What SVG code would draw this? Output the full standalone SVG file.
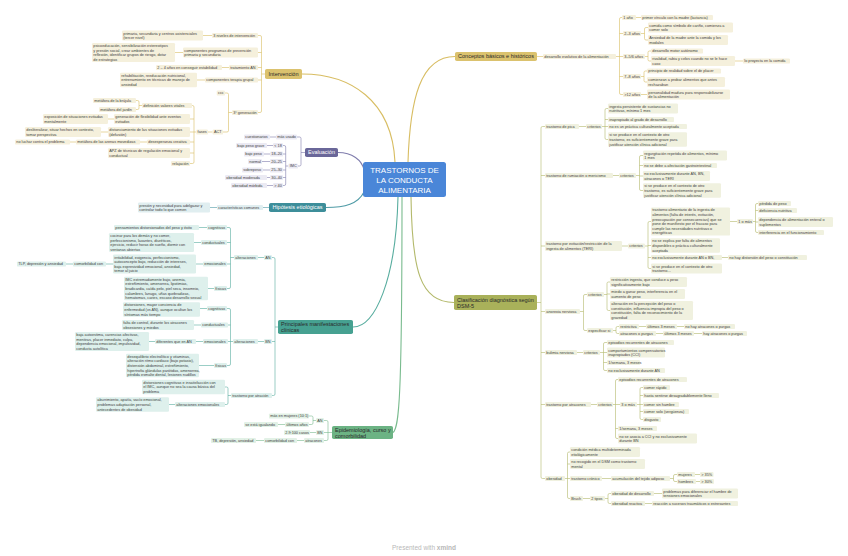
<svg xmlns="http://www.w3.org/2000/svg" width="848" height="556" viewBox="0 0 848 556">
<style>
text{font-family:"Liberation Sans",Arial,sans-serif;font-size:3.8px;fill:#3d3d3d}
rect{rx:1.2px}
.g rect{fill:#f5f0dc}
.p rect{fill:#ebeaf3}
.h rect{fill:#e0eef0}
.m rect{fill:#def0ec}
.e rect{fill:#e2f1e6}
.o rect{fill:#f0f1df}
.M rect{rx:1.8px}
.M text{font-size:5.5px;fill:#2a2a2a}
.Mg rect{fill:#dbc26e}
.Mp rect{fill:#6a6799}
.Mh rect{fill:#3d8e9a}
.Mm rect{fill:#46a191}
.Me rect{fill:#6cb384}
.Mo rect{fill:#a9b15a}
.W text{fill:#ffffff}
#root rect{rx:2.5px;fill:#4a86d8}
#root text{font-size:8px;fill:#ffffff}
#connectors path{fill:none;stroke-width:.6}
#connectors .big{stroke-width:1.1}
.cg{stroke:#d8bd62}
.cp{stroke:#7f7cac}
.ch{stroke:#4f9ba6}
.cm{stroke:#58ad9f}
.ce{stroke:#79bb8e}
.co{stroke:#b3b96b}
.ft{font-size:6.5px;fill:#b8b8b8}
</style>
<g id="connectors">
<path class="cg big" d="M395 162C392 100 350 74 302 74"/>
<path class="cg big" d="M408 162C410 100 420 56.5 455 56.5"/>
<path class="cp big" d="M338 152.5C352 152.5 362 160 364 170"/>
<path class="ch big" d="M326 207.5C345 207.5 358 204 364 192"/>
<path class="cm big" d="M353 327C375 327 396 280 398 197"/>
<path class="ce big" d="M393 432.5C399 428 402 400 402 197"/>
<path class="co big" d="M411 197C412 270 420 302.5 454 302.5"/>
<path class="cg" d="M265 74H261.5M258 35.5H260Q261.5 35.5 261.5 37V111Q261.5 112.5 260 112.5H258M258 52.5H261.5M258 67.5H261.5M258 80H261.5"/>
<path class="cg" d="M203 35.5H212M175 52.5H183M222 67.5H229M197 80H205"/>
<path class="cg" d="M232 112.5H228.5M225 93H227Q228.5 93 228.5 94.5V130.5Q228.5 132 227 132H223"/>
<path class="cg" d="M212.6 132H208"/>
<path class="cg" d="M196.3 132H194M192 105.5H192.5Q194 105.5 194 107V162Q194 163.5 192.5 163.5H190M190 119H194M190 132H194M190 142H194M190 153H194"/>
<path class="cg" d="M142 105.5H139M136 100.5H137.5Q139 100.5 139 102V108Q139 109.5 137.5 109.5H136"/>
<path class="cg" d="M108 119H114M101 132H108M140 142H147M70 142H76"/>
<path class="cg" d="M537 56.5H543"/>
<path class="cg" d="M616 56.5H619.5M622 17.5H621Q619.5 17.5 619.5 19V93Q619.5 94.5 621 94.5H623M619.5 33.5H623M619.5 56.5H623M619.5 76.5H623"/>
<path class="cg" d="M636 17.5H641"/>
<path class="cg" d="M641 33.5H644.5M648 27.5H646Q644.5 27.5 644.5 29V38.5Q644.5 40 646 40H648"/>
<path class="cg" d="M645 56.5H648M651 51H649.5Q648 51 648 52.5V59.5Q648 61 649.5 61H651"/>
<path class="cg" d="M735 61H743"/>
<path class="cg" d="M641 76.5H644M647 71H645.5Q644 71 644 72.5V80.5Q644 82 645.5 82H647"/>
<path class="cg" d="M641 94.5H647"/>
<path class="cp" d="M305 152.5H301M297 137H299.5Q301 137 301 138.5V164.5Q301 166 299.5 166H298"/>
<path class="cp" d="M270 137H276"/>
<path class="cp" d="M288.4 166H285.7M283 145.5H284.2Q285.7 145.5 285.7 147V184Q285.7 185.5 284.2 185.5H283M283 154H285.7M283 161.5H285.7M283 170H285.7M283 177.5H285.7"/>
<path class="cp" d="M267 145.5H273M264 154H270M262 161.5H270M263 170H270M267 177.5H270M267 185.5H273"/>
<path class="ch" d="M269 207.5H263M210 207.5H217"/>
<path class="cm" d="M278 327H275M272 257.5H273.5Q275 257.5 275 259V394Q275 395.5 273.5 395.5H272M272 341.5H275"/>
<path class="cm" d="M258 257.5H264M258 341.5H264"/>
<path class="cm" d="M234 257.5H230.5M227 227.5H229Q230.5 227.5 230.5 229V287Q230.5 288.5 229 288.5H227M227 242.5H230.5M227 264H230.5"/>
<path class="cm" d="M199 227.5H207M194 242.5H201M196 264H203M106 264H113M66 264H73M208 288.5H214"/>
<path class="cm" d="M233 341.5H230.5M227 308.5H229Q230.5 308.5 230.5 310V364Q230.5 365.5 229 365.5H227M228 325H230.5M228 341.5H230.5"/>
<path class="cm" d="M200 308.5H207M194 325H201M196 341.5H203M149 341.5H155M199 365.5H214"/>
<path class="cm" d="M231 395.5H228M225 387H226.5Q228 387 228 388.5V403Q228 404.5 226.5 404.5H225M169 404.5H175"/>
<path class="ce" d="M332 432.5H328M324 420.5H326.5Q328 420.5 328 422V439Q328 440.5 326.5 440.5H324M324 432.5H328"/>
<path class="ce" d="M316 420.5H313M309 416H311.5Q313 416 313 417.5V423Q313 424.5 311.5 424.5H309"/>
<path class="ce" d="M278 424.5H285M310 432.5H316M297 440.5H304M256 440.5H264"/>
<path class="co" d="M537 302.5H541M545 126.5H542.5Q541 126.5 541 128V477Q541 478.5 542.5 478.5H545M541 175.5H545M541 246H545M541 311.5H545M541 352.5H545M541 404.5H545"/>
<path class="co" d="M579 126.5H586M613 175.5H619M622 246H628M577 352.5H583M591 404.5H597"/>
<path class="co" d="M602 126.5H605M608 108.5H606.5Q605 108.5 605 110V138Q605 139.5 606.5 139.5H608M605 119.5H608M605 126.5H608"/>
<path class="co" d="M636 175.5H639.5M643 155.5H641Q639.5 155.5 639.5 157V189Q639.5 190.5 641 190.5H643M639.5 165.5H643M639.5 176H643"/>
<path class="co" d="M645 246H648M651 221.5H649.5Q648 221.5 648 223V267Q648 268.5 649.5 268.5H651M648 245.5H651M648 257.5H651"/>
<path class="co" d="M730 221.5H737M753 221.5H755.5M758 203.5H757Q755.5 203.5 755.5 205V231Q755.5 232.5 757 232.5H758M755.5 210.5H758M755.5 222H758"/>
<path class="co" d="M722 257.5H728"/>
<path class="co" d="M580 311.5H583.5M587 294.5H585Q583.5 294.5 583.5 296V329Q583.5 330.5 585 330.5H587"/>
<path class="co" d="M604 294.5H607M610 282H608.5Q607 282 607 283.5V309Q607 310.5 608.5 310.5H610M607 294H610"/>
<path class="co" d="M613 330.5H616M619 326.5H617.5Q616 326.5 616 328V332Q616 333.5 617.5 333.5H619"/>
<path class="co" d="M639 326.5H646M677 326.5H684M656 333.5H663M694 333.5H702"/>
<path class="co" d="M600 352.5H603.5M607 342.5H605Q603.5 342.5 603.5 344V369Q603.5 370.5 605 370.5H607M603.5 352.5H607M603.5 362.5H607"/>
<path class="co" d="M613 404.5H615.5M618 379.5H617Q615.5 379.5 615.5 381V437Q615.5 438.5 617 438.5H618M615.5 404.5H620M615.5 428.5H618"/>
<path class="co" d="M637 404.5H640M643 387.5H641.5Q640 387.5 640 389V418Q640 419.5 641.5 419.5H643M640 395.5H643M640 404.5H643M640 411.5H643"/>
<path class="co" d="M565 478.5H567.5M570 452H569Q567.5 452 567.5 453.5V497Q567.5 498.5 569 498.5H570M567.5 464H570M567.5 478.5H570"/>
<path class="co" d="M602 478.5H611M670 478.5H673.5M677 474.5H675Q673.5 474.5 673.5 476V480Q673.5 481.5 675 481.5H677M695 474.5H700M696 481.5H700"/>
<path class="co" d="M583 498.5H590M605 498.5H608M611 493.5H609.5Q608 493.5 608 495V502Q608 503.5 609.5 503.5H611M654 493.5H662M645 503.5H652"/>
</g>

<g id="root"><rect x="363" y="162" width="83" height="35"/><text x="404.5" y="173" text-anchor="middle">TRASTORNOS DE<tspan x="404.5" dy="10">LA CONDUCTA</tspan><tspan x="404.5" dy="10">ALIMENTARIA</tspan></text></g>

<g id="intervencion" class="M Mg"><rect x="265" y="69" width="37" height="10"/><text x="283.5" y="76" text-anchor="middle">Intervención</text></g>
<g id="i1" class="g"><rect x="212" y="32.9" width="46" height="5.2"/><text x="213.3" y="36.9">3 niveles de intervención</text></g>
<g id="i1a" class="g"><rect x="122" y="30.6" width="81" height="9.8"/><text x="123.3" y="34.6">primaria, secundaria y centros asistenciales<tspan x="123.3" dy="4.6">(tercer nivel)</tspan></text></g>
<g id="i2" class="g"><rect x="183" y="47.6" width="75" height="9.8"/><text x="184.3" y="51.6">componentes programas de prevención<tspan x="184.3" dy="4.6">primaria y secundaria</tspan></text></g>
<g id="i2a" class="g"><rect x="92" y="43" width="83" height="19"/><text x="93.3" y="47">psicoeducación, sensibilización estereotipos<tspan x="93.3" dy="4.6">y presión social, crear ambientes de</tspan><tspan x="93.3" dy="4.6">reflexión, identificar grupos de riesgo, dotar</tspan><tspan x="93.3" dy="4.6">de estrategias</tspan></text></g>
<g id="i3" class="g"><rect x="229" y="64.9" width="29" height="5.2"/><text x="230.3" y="68.9">tratamiento AN</text></g>
<g id="i3a" class="g"><rect x="156" y="64.9" width="66" height="5.2"/><text x="157.3" y="68.9">2 – 4 años en conseguir estabilidad</text></g>
<g id="i4" class="g"><rect x="205" y="77.4" width="53" height="5.2"/><text x="206.3" y="81.4">componentes terapia grupal</text></g>
<g id="i4a" class="g"><rect x="120" y="72.8" width="77" height="14.4"/><text x="121.3" y="76.8">rehabilitación, reeducación nutricional,<tspan x="121.3" dy="4.6">entrenamiento en técnicas de manejo de</tspan><tspan x="121.3" dy="4.6">ansiedad</tspan></text></g>
<g id="i5" class="g"><rect x="232" y="109.9" width="26" height="5.2"/><text x="233.3" y="113.9">3ª generación</text></g>
<g id="ccc" class="g"><rect x="216.7" y="90.4" width="8.3" height="5.2"/><text x="218" y="94.4">ccc</text></g>
<g id="act" class="g"><rect x="212.6" y="129.4" width="10.4" height="5.2"/><text x="213.9" y="133.4">ACT</text></g>
<g id="fases" class="g"><rect x="196.3" y="129.4" width="11.7" height="5.2"/><text x="197.6" y="133.4">fases</text></g>
<g id="f1" class="g"><rect x="142" y="102.9" width="50" height="5.2"/><text x="143.3" y="106.9">definición valores vitales</text></g>
<g id="f1a" class="g"><rect x="93" y="97.9" width="43" height="5.2"/><text x="94.3" y="101.9">metáfora de la brújula</text></g>
<g id="f1b" class="g"><rect x="99" y="106.9" width="37" height="5.2"/><text x="100.3" y="110.9">metáfora del jardín</text></g>
<g id="f2" class="g"><rect x="114" y="114.1" width="76" height="9.8"/><text x="115.3" y="118.1">generación de flexibilidad ante eventos<tspan x="115.3" dy="4.6">evitados</tspan></text></g>
<g id="f2a" class="g"><rect x="43" y="114.1" width="65" height="9.8"/><text x="44.3" y="118.1">exposición de situaciones evitadas<tspan x="44.3" dy="4.6">mentalmente</tspan></text></g>
<g id="f3" class="g"><rect x="108" y="127.1" width="82" height="9.8"/><text x="109.3" y="131.1">distanciamiento de las situaciones evitadas<tspan x="109.3" dy="4.6">(defusión)</tspan></text></g>
<g id="f3a" class="g"><rect x="25" y="127.1" width="76" height="9.8"/><text x="26.3" y="131.1">desliteralizar, situar hechos en contexto,<tspan x="26.3" dy="4.6">tomar perspectiva</tspan></text></g>
<g id="f4" class="g"><rect x="147" y="139.4" width="43" height="5.2"/><text x="148.3" y="143.4">desesperanza creativa</text></g>
<g id="f4a" class="g"><rect x="76" y="139.4" width="64" height="5.2"/><text x="77.3" y="143.4">metáfora de las arenas movedizas</text></g>
<g id="f4b" class="g"><rect x="15" y="139.4" width="55" height="5.2"/><text x="16.3" y="143.4">no luchar contra el problema</text></g>
<g id="f5" class="g"><rect x="108" y="148.1" width="82" height="9.8"/><text x="109.3" y="152.1">APZ de técnicas de regulación emocional y<tspan x="109.3" dy="4.6">conductual</tspan></text></g>
<g id="f6" class="g"><rect x="171" y="160.9" width="19" height="5.2"/><text x="172.3" y="164.9">relajación</text></g>

<g id="conceptos" class="M Mg"><rect x="455" y="52" width="82" height="9"/><text x="496" y="58.4" text-anchor="middle">Conceptos básicos e históricos</text></g>
<g id="d0" class="g"><rect x="543" y="53.9" width="73" height="5.2"/><text x="544.3" y="57.9">desarrollo evolutivo de la alimentación</text></g>
<g id="d1" class="g"><rect x="622" y="14.9" width="14" height="5.2"/><text x="623.3" y="18.9">1 año</text></g>
<g id="d1a" class="g"><rect x="641" y="14.9" width="72" height="5.2"/><text x="642.3" y="18.9">primer vínculo con la madre (lactancia)</text></g>
<g id="d2" class="g"><rect x="623" y="30.9" width="18" height="5.2"/><text x="624.3" y="34.9">2–3 años</text></g>
<g id="d2a" class="g"><rect x="648" y="22.6" width="85" height="9.8"/><text x="649.3" y="26.6">comida como símbolo de cariño, comienza a<tspan x="649.3" dy="4.6">comer solo</tspan></text></g>
<g id="d2b" class="g"><rect x="648" y="35.1" width="80" height="9.8"/><text x="649.3" y="39.1">Ansiedad de la madre ante la comida y los<tspan x="649.3" dy="4.6">modales</tspan></text></g>
<g id="d3" class="g"><rect x="623" y="53.9" width="22" height="5.2"/><text x="624.3" y="57.9">3–5/6 años</text></g>
<g id="d3a" class="g"><rect x="651" y="48.4" width="52" height="5.2"/><text x="652.3" y="52.4">desarrollo motor autónomo</text></g>
<g id="d3b" class="g"><rect x="651" y="56.1" width="84" height="9.8"/><text x="652.3" y="60.1">rivalidad, rabia y celos cuando no se le hace<tspan x="652.3" dy="4.6">caso</tspan></text></g>
<g id="d3c" class="g"><rect x="743" y="58.4" width="47" height="5.2"/><text x="744.3" y="62.4">lo proyecta en la comida</text></g>
<g id="d4" class="g"><rect x="623" y="73.9" width="18" height="5.2"/><text x="624.3" y="77.9">7–8 años</text></g>
<g id="d4a" class="g"><rect x="647" y="68.4" width="74" height="5.2"/><text x="648.3" y="72.4">principio de realidad sobre el de placer</text></g>
<g id="d4b" class="g"><rect x="647" y="77.1" width="78" height="9.8"/><text x="648.3" y="81.1">comienzan a probar alimentos que antes<tspan x="648.3" dy="4.6">rechazaban</tspan></text></g>
<g id="d5" class="g"><rect x="623" y="91.9" width="18" height="5.2"/><text x="624.3" y="95.9">&gt;12 años</text></g>
<g id="d5a" class="g"><rect x="647" y="89.6" width="83" height="9.8"/><text x="648.3" y="93.6">personalidad madura para responsabilizarse<tspan x="648.3" dy="4.6">de la alimentación</tspan></text></g>

<g id="evaluacion" class="M Mp W"><rect x="305" y="148" width="33" height="9"/><text x="321.5" y="154.4" text-anchor="middle">Evaluación</text></g>
<g id="e1" class="p"><rect x="276" y="134.4" width="21" height="5.2"/><text x="277.3" y="138.4">más usado</text></g>
<g id="e1a" class="p"><rect x="244" y="134.4" width="26" height="5.2"/><text x="245.3" y="138.4">cuestionarios</text></g>
<g id="e2" class="p"><rect x="288.4" y="163.4" width="9.6" height="5.2"/><text x="289.7" y="167.4">IMC</text></g>
<g id="v1" class="p"><rect x="273" y="142.9" width="10" height="5.2"/><text x="274.3" y="146.9">&lt; 18</text></g>
<g id="v2" class="p"><rect x="270" y="151.4" width="13" height="5.2"/><text x="271.3" y="155.4">18–20</text></g>
<g id="v3" class="p"><rect x="270" y="158.9" width="13" height="5.2"/><text x="271.3" y="162.9">20–25</text></g>
<g id="v4" class="p"><rect x="270" y="167.4" width="13" height="5.2"/><text x="271.3" y="171.4">25–30</text></g>
<g id="v5" class="p"><rect x="270" y="174.9" width="13" height="5.2"/><text x="271.3" y="178.9">30–40</text></g>
<g id="v6" class="p"><rect x="273" y="182.9" width="10" height="5.2"/><text x="274.3" y="186.9">&gt; 40</text></g>
<g id="l1" class="p"><rect x="236" y="142.9" width="31" height="5.2"/><text x="237.3" y="146.9">bajo peso grave</text></g>
<g id="l2" class="p"><rect x="244" y="151.4" width="20" height="5.2"/><text x="245.3" y="155.4">bajo peso</text></g>
<g id="l3" class="p"><rect x="248" y="158.9" width="14" height="5.2"/><text x="249.3" y="162.9">normal</text></g>
<g id="l4" class="p"><rect x="242" y="167.4" width="21" height="5.2"/><text x="243.3" y="171.4">sobrepeso</text></g>
<g id="l5" class="p"><rect x="225" y="174.9" width="42" height="5.2"/><text x="226.3" y="178.9">obesidad moderada</text></g>
<g id="l6" class="p"><rect x="231" y="182.9" width="36" height="5.2"/><text x="232.3" y="186.9">obesidad mórbida</text></g>

<g id="hipotesis" class="M Mh W"><rect x="269" y="203" width="57" height="9"/><text x="297.5" y="209.4" text-anchor="middle">Hipótesis etiológicas</text></g>
<g id="h1" class="h"><rect x="217" y="204.9" width="46" height="5.2"/><text x="218.3" y="208.9">características comunes</text></g>
<g id="h1a" class="h"><rect x="138" y="202.6" width="72" height="9.8"/><text x="139.3" y="206.6">presión y necesidad para adelgazar y<tspan x="139.3" dy="4.6">controlar todo lo que comen</tspan></text></g>

<g id="manifestaciones" class="M Mm"><rect x="278" y="320" width="75" height="14"/><text x="281" y="326.2">Principales manifestaciones<tspan x="281" dy="5.8">clínicas</tspan></text></g>
<g id="m1" class="m"><rect x="264" y="254.9" width="8" height="5.2"/><text x="265.3" y="258.9">AN</text></g>
<g id="m1a" class="m"><rect x="234" y="254.9" width="24" height="5.2"/><text x="235.3" y="258.9">alteraciones</text></g>
<g id="a1" class="m"><rect x="207" y="224.9" width="20" height="5.2"/><text x="208.3" y="228.9">cognitivas</text></g>
<g id="a1a" class="m"><rect x="114" y="224.9" width="85" height="5.2"/><text x="115.3" y="228.9">pensamientos distorsionados del peso y éxito</text></g>
<g id="a2" class="m"><rect x="201" y="239.9" width="26" height="5.2"/><text x="202.3" y="243.9">conductuales</text></g>
<g id="a2a" class="m"><rect x="109" y="233" width="85" height="19"/><text x="110.3" y="237">cocinar para los demás y no comer,<tspan x="110.3" dy="4.6">perfeccionismo, laxantes, diuréticos,</tspan><tspan x="110.3" dy="4.6">ejercicio, reducir horas de sueño, dormir con</tspan><tspan x="110.3" dy="4.6">ventanas abiertas</tspan></text></g>
<g id="a3" class="m"><rect x="203" y="261.4" width="24" height="5.2"/><text x="204.3" y="265.4">emocionales</text></g>
<g id="a3a" class="m"><rect x="113" y="254.5" width="83" height="19"/><text x="114.3" y="258.5">irritabilidad, exigencia, perfeccionismo,<tspan x="114.3" dy="4.6">autoconcepto bajo, reducción de intereses,</tspan><tspan x="114.3" dy="4.6">baja expresividad emocional, ansiedad,</tspan><tspan x="114.3" dy="4.6">temor al juicio</tspan></text></g>
<g id="a3b" class="m"><rect x="73" y="261.4" width="33" height="5.2"/><text x="74.3" y="265.4">comorbilidad con</text></g>
<g id="a3c" class="m"><rect x="17" y="261.4" width="49" height="5.2"/><text x="18.3" y="265.4">TLP, depresión y ansiedad</text></g>
<g id="a4" class="m"><rect x="214" y="285.9" width="13" height="5.2"/><text x="215.3" y="289.9">físicas</text></g>
<g id="a4a" class="m"><rect x="124" y="276.7" width="84" height="23.6"/><text x="125.3" y="280.7">IMC extremadamente bajo, anemia,<tspan x="125.3" dy="4.6">estreñimiento, amenorrea, lipotimias,</tspan><tspan x="125.3" dy="4.6">bradicardia, caída pelo, piel seca, insomnio,</tspan><tspan x="125.3" dy="4.6">calambres, lanugo, uñas quebradizas,</tspan><tspan x="125.3" dy="4.6">hematomas, caries, escaso desarrollo sexual</tspan></text></g>
<g id="m2" class="m"><rect x="264" y="338.9" width="8" height="5.2"/><text x="265.3" y="342.9">BN</text></g>
<g id="m2a" class="m"><rect x="233" y="338.9" width="25" height="5.2"/><text x="234.3" y="342.9">alteraciones</text></g>
<g id="b1" class="m"><rect x="207" y="305.9" width="20" height="5.2"/><text x="208.3" y="309.9">cognitivas</text></g>
<g id="b1a" class="m"><rect x="123" y="302.3" width="77" height="14.4"/><text x="124.3" y="306.3">distorsiones, mayor conciencia de<tspan x="124.3" dy="4.6">enfermedad (vs AN), aunque ocultan los</tspan><tspan x="124.3" dy="4.6">síntomas más tiempo</tspan></text></g>
<g id="b2" class="m"><rect x="201" y="322.4" width="27" height="5.2"/><text x="202.3" y="326.4">conductuales</text></g>
<g id="b2a" class="m"><rect x="122" y="320.1" width="72" height="9.8"/><text x="123.3" y="324.1">falta de control, durante los atracones<tspan x="123.3" dy="4.6">obsesiones y miedos</tspan></text></g>
<g id="b3" class="m"><rect x="203" y="338.9" width="25" height="5.2"/><text x="204.3" y="342.9">emocionales</text></g>
<g id="b3a" class="m"><rect x="155" y="338.9" width="41" height="5.2"/><text x="156.3" y="342.9">diferentes que en AN</text></g>
<g id="b3b" class="m"><rect x="75" y="332" width="74" height="19"/><text x="76.3" y="336">baja autoestima, carencias afectivas,<tspan x="76.3" dy="4.6">mentiras, placer inmediato, culpa,</tspan><tspan x="76.3" dy="4.6">dependencia emocional, impulsividad,</tspan><tspan x="76.3" dy="4.6">conducta autolítica</tspan></text></g>
<g id="b4" class="m"><rect x="214" y="362.9" width="13" height="5.2"/><text x="215.3" y="366.9">físicas</text></g>
<g id="b4a" class="m"><rect x="126" y="353.7" width="73" height="23.6"/><text x="127.3" y="357.7">desequilibrio electrolítico y vitaminas,<tspan x="127.3" dy="4.6">alteración ritmo cardiaco (bajo potasio),</tspan><tspan x="127.3" dy="4.6">distensión abdominal, estreñimiento,</tspan><tspan x="127.3" dy="4.6">hipertrofia glándulas parótidas, amenorrea,</tspan><tspan x="127.3" dy="4.6">pérdida esmalte dental, lesiones nudillos</tspan></text></g>
<g id="m3" class="m"><rect x="231" y="392.9" width="41" height="5.2"/><text x="232.3" y="396.9">trastorno por atración</text></g>
<g id="c1" class="m"><rect x="142" y="379.8" width="83" height="14.4"/><text x="143.3" y="383.8">distorsiones cognitivas e insatisfacción con<tspan x="143.3" dy="4.6">el IMC, aunque no sea la causa básica del</tspan><tspan x="143.3" dy="4.6">problema</tspan></text></g>
<g id="c2" class="m"><rect x="175" y="401.9" width="50" height="5.2"/><text x="176.3" y="405.9">alteraciones emocionales</text></g>
<g id="c2a" class="m"><rect x="96" y="397.3" width="73" height="14.4"/><text x="97.3" y="401.3">aburrimiento, apatía, vacío emocional,<tspan x="97.3" dy="4.6">problemas adaptación personal,</tspan><tspan x="97.3" dy="4.6">antecedentes de obesidad</tspan></text></g>

<g id="epidemiologia" class="M Me"><rect x="332" y="426" width="61" height="13"/><text x="335" y="432">Epidemiología, curso y<tspan x="335" dy="5.7">comorbilidad</tspan></text></g>
<g id="p1" class="e"><rect x="316" y="417.9" width="8" height="5.2"/><text x="317.3" y="421.9">AN</text></g>
<g id="p1a" class="e"><rect x="269" y="413.4" width="40" height="5.2"/><text x="270.3" y="417.4">más en mujeres (10:1)</text></g>
<g id="p1b" class="e"><rect x="285" y="421.9" width="24" height="5.2"/><text x="286.3" y="425.9">últimos años</text></g>
<g id="p1c" class="e"><rect x="244" y="421.9" width="34" height="5.2"/><text x="245.3" y="425.9">se está igualando</text></g>
<g id="p2" class="e"><rect x="316" y="429.9" width="8" height="5.2"/><text x="317.3" y="433.9">BN</text></g>
<g id="p2a" class="e"><rect x="284" y="429.9" width="26" height="5.2"/><text x="285.3" y="433.9">2.9:100 casos</text></g>
<g id="p3" class="e"><rect x="304" y="437.9" width="20" height="5.2"/><text x="305.3" y="441.9">atracones</text></g>
<g id="p3a" class="e"><rect x="264" y="437.9" width="33" height="5.2"/><text x="265.3" y="441.9">comorbilidad con</text></g>
<g id="p3b" class="e"><rect x="211" y="437.9" width="45" height="5.2"/><text x="212.3" y="441.9">TB, depresión, ansiedad</text></g>

<g id="clasificacion" class="M Mo"><rect x="454" y="295" width="83" height="15"/><text x="457" y="301.5">Clasificación diagnóstica según<tspan x="457" dy="6">DSM-5</tspan></text></g>
<g id="k1" class="o"><rect x="545" y="123.9" width="34" height="5.2"/><text x="546.3" y="127.9">trastorno de pica</text></g>
<g id="k1c" class="o"><rect x="586" y="123.9" width="16" height="5.2"/><text x="587.3" y="127.9">criterios</text></g>
<g id="k1d" class="o"><rect x="608" y="103.6" width="70" height="9.8"/><text x="609.3" y="107.6">ingesta persistente de sustancias no<tspan x="609.3" dy="4.6">nutritivas, mínimo 1 mes</tspan></text></g>
<g id="k1e" class="o"><rect x="608" y="116.9" width="66" height="5.2"/><text x="609.3" y="120.9">inapropiado al grado de desarrollo</text></g>
<g id="k1f" class="o"><rect x="608" y="123.9" width="79" height="5.2"/><text x="609.3" y="127.9">no es un práctica culturalmente aceptada</text></g>
<g id="k1g" class="o"><rect x="608" y="132.3" width="79" height="14.4"/><text x="609.3" y="136.3">si se produce en el contexto de otro<tspan x="609.3" dy="4.6">trastorno, es suficientemente grave para</tspan><tspan x="609.3" dy="4.6">justificar atención clínica adicional</tspan></text></g>
<g id="k2" class="o"><rect x="545" y="172.9" width="68" height="5.2"/><text x="546.3" y="176.9">trastorno de rumiación o mericismo</text></g>
<g id="k2c" class="o"><rect x="619" y="172.9" width="17" height="5.2"/><text x="620.3" y="176.9">criterios</text></g>
<g id="k2d" class="o"><rect x="643" y="150.6" width="84" height="9.8"/><text x="644.3" y="154.6">regurgitación repetida de alimentos, mínimo<tspan x="644.3" dy="4.6">1 mes</tspan></text></g>
<g id="k2e" class="o"><rect x="643" y="162.9" width="74" height="5.2"/><text x="644.3" y="166.9">no se debe a afectación gastrointestinal</text></g>
<g id="k2f" class="o"><rect x="643" y="171.1" width="67" height="9.8"/><text x="644.3" y="175.1">no exclusivamente durante AN, BN,<tspan x="644.3" dy="4.6">atracones o TERI</tspan></text></g>
<g id="k2g" class="o"><rect x="643" y="183.3" width="78" height="14.4"/><text x="644.3" y="187.3">si se produce en el contexto de otro<tspan x="644.3" dy="4.6">trastorno, es suficientemente grave para</tspan><tspan x="644.3" dy="4.6">justificar atención clínica adicional</tspan></text></g>
<g id="k3" class="o"><rect x="545" y="241.1" width="77" height="9.8"/><text x="546.3" y="245.1">trastorno por evitación/restricción de la<tspan x="546.3" dy="4.6">ingesta de alimentos (TERI)</tspan></text></g>
<g id="k3c" class="o"><rect x="628" y="243.4" width="17" height="5.2"/><text x="629.3" y="247.4">criterios</text></g>
<g id="t1" class="o"><rect x="651" y="207.4" width="79" height="28.2"/><text x="652.3" y="211.4">trastorno alimentario de la ingesta de<tspan x="652.3" dy="4.6">alimentos (falta de interés, evitación,</tspan><tspan x="652.3" dy="4.6">preocupación por consecuencias) que se</tspan><tspan x="652.3" dy="4.6">pone de manifiesto por el fracaso para</tspan><tspan x="652.3" dy="4.6">cumplir las necesidades nutritivas o</tspan><tspan x="652.3" dy="4.6">energéticas</tspan></text></g>
<g id="t1a" class="o"><rect x="737" y="218.9" width="16" height="5.2"/><text x="738.3" y="222.9">1 o más</text></g>
<g id="t1b" class="o"><rect x="758" y="200.9" width="33" height="5.2"/><text x="759.3" y="204.9">pérdida de peso</text></g>
<g id="t1c" class="o"><rect x="758" y="207.9" width="39" height="5.2"/><text x="759.3" y="211.9">deficiencia nutritiva</text></g>
<g id="t1d" class="o"><rect x="758" y="217.1" width="75" height="9.8"/><text x="759.3" y="221.1">dependencia de alimentación enteral o<tspan x="759.3" dy="4.6">suplementos</tspan></text></g>
<g id="t1e" class="o"><rect x="758" y="229.9" width="66" height="5.2"/><text x="759.3" y="233.9">interferencia en el funcionamiento</text></g>
<g id="t2" class="o"><rect x="651" y="238.3" width="69" height="14.4"/><text x="652.3" y="242.3">no se explica por falta de alimentos<tspan x="652.3" dy="4.6">disponibles o práctica culturalmente</tspan><tspan x="652.3" dy="4.6">aceptada</tspan></text></g>
<g id="t3" class="o"><rect x="651" y="254.9" width="71" height="5.2"/><text x="652.3" y="258.9">no exclusivamente durante AN o BN,</text></g>
<g id="t3a" class="o"><rect x="728" y="254.9" width="79" height="5.2"/><text x="729.3" y="258.9">no hay distorsión del peso o constitución</text></g>
<g id="t4" class="o"><rect x="651" y="263.6" width="71" height="9.8"/><text x="652.3" y="267.6">si se produce en el contexto de otro<tspan x="652.3" dy="4.6">trastorno…</tspan></text></g>
<g id="k4" class="o"><rect x="545" y="308.9" width="35" height="5.2"/><text x="546.3" y="312.9">anorexia nerviosa</text></g>
<g id="k4c" class="o"><rect x="587" y="291.9" width="17" height="5.2"/><text x="588.3" y="295.9">criterios</text></g>
<g id="k4d" class="o"><rect x="610" y="277.1" width="77" height="9.8"/><text x="611.3" y="281.1">restricción ingesta, que conduce a peso<tspan x="611.3" dy="4.6">significativamente bajo</tspan></text></g>
<g id="k4e" class="o"><rect x="610" y="289.1" width="75" height="9.8"/><text x="611.3" y="293.1">miedo a ganar peso, interferencia en el<tspan x="611.3" dy="4.6">aumento de peso</tspan></text></g>
<g id="k4f" class="o"><rect x="610" y="301" width="83" height="19"/><text x="611.3" y="305">alteración en la percepción del peso o<tspan x="611.3" dy="4.6">constitución, influencia impropia del peso o</tspan><tspan x="611.3" dy="4.6">constitución, falta de reconocimiento de la</tspan><tspan x="611.3" dy="4.6">gravedad</tspan></text></g>
<g id="k4s" class="o"><rect x="587" y="327.9" width="26" height="5.2"/><text x="588.3" y="331.9">especificar si</text></g>
<g id="r1" class="o"><rect x="619" y="323.9" width="20" height="5.2"/><text x="620.3" y="327.9">restrictiva</text></g>
<g id="r1a" class="o"><rect x="646" y="323.9" width="31" height="5.2"/><text x="647.3" y="327.9">últimos 3 meses</text></g>
<g id="r1b" class="o"><rect x="684" y="323.9" width="51" height="5.2"/><text x="685.3" y="327.9">no hay atracones o purgas</text></g>
<g id="r2" class="o"><rect x="619" y="330.9" width="37" height="5.2"/><text x="620.3" y="334.9">atracones o purgas</text></g>
<g id="r2a" class="o"><rect x="663" y="330.9" width="31" height="5.2"/><text x="664.3" y="334.9">últimos 3 meses</text></g>
<g id="r2b" class="o"><rect x="702" y="330.9" width="45" height="5.2"/><text x="703.3" y="334.9">hay atracones o purgas</text></g>
<g id="k5" class="o"><rect x="545" y="349.9" width="32" height="5.2"/><text x="546.3" y="353.9">bulimia nerviosa</text></g>
<g id="k5c" class="o"><rect x="583" y="349.9" width="17" height="5.2"/><text x="584.3" y="353.9">criterios</text></g>
<g id="k5d" class="o"><rect x="607" y="339.9" width="67" height="5.2"/><text x="608.3" y="343.9">episodios recurrentes de atracones</text></g>
<g id="k5e" class="o"><rect x="607" y="347.6" width="58" height="9.8"/><text x="608.3" y="351.6">comportamientos compensatorios<tspan x="608.3" dy="4.6">inapropiados (CCI)</tspan></text></g>
<g id="k5f" class="o"><rect x="607" y="359.9" width="33" height="5.2"/><text x="608.3" y="363.9">1/semana, 3 meses</text></g>
<g id="k5g" class="o"><rect x="607" y="367.9" width="58" height="5.2"/><text x="608.3" y="371.9">no exclusivamente durante AN</text></g>
<g id="k6" class="o"><rect x="545" y="401.9" width="46" height="5.2"/><text x="546.3" y="405.9">trastorno por atracones</text></g>
<g id="k6c" class="o"><rect x="597" y="401.9" width="16" height="5.2"/><text x="598.3" y="405.9">criterios</text></g>
<g id="k6d" class="o"><rect x="618" y="376.9" width="69" height="5.2"/><text x="619.3" y="380.9">episodios recurrentes de atracones</text></g>
<g id="k6e" class="o"><rect x="620" y="401.9" width="17" height="5.2"/><text x="621.3" y="405.9">3 o más</text></g>
<g id="k6e1" class="o"><rect x="643" y="384.9" width="27" height="5.2"/><text x="644.3" y="388.9">comer rápido</text></g>
<g id="k6e2" class="o"><rect x="643" y="392.9" width="76" height="5.2"/><text x="644.3" y="396.9">hasta sentirse desagradablemente lleno</text></g>
<g id="k6e3" class="o"><rect x="643" y="401.9" width="36" height="5.2"/><text x="644.3" y="405.9">comer sin hambre</text></g>
<g id="k6e4" class="o"><rect x="643" y="408.9" width="46" height="5.2"/><text x="644.3" y="412.9">comer solo (vergüenza)</text></g>
<g id="k6e5" class="o"><rect x="643" y="416.9" width="18" height="5.2"/><text x="644.3" y="420.9">disgusto</text></g>
<g id="k6f" class="o"><rect x="618" y="425.9" width="39" height="5.2"/><text x="619.3" y="429.9">1/semana, 3 meses</text></g>
<g id="k6g" class="o"><rect x="618" y="433.6" width="79" height="9.8"/><text x="619.3" y="437.6">no se asocia a CCI y no exclusivamente<tspan x="619.3" dy="4.6">durante BN</tspan></text></g>
<g id="k7" class="o"><rect x="545" y="475.9" width="20" height="5.2"/><text x="546.3" y="479.9">obesidad</text></g>
<g id="o1" class="o"><rect x="570" y="447.1" width="70" height="9.8"/><text x="571.3" y="451.1">condición médica multideterminada<tspan x="571.3" dy="4.6">etiológicamente</tspan></text></g>
<g id="o2" class="o"><rect x="570" y="459.1" width="75" height="9.8"/><text x="571.3" y="463.1">no recogido en el DSM como trastorno<tspan x="571.3" dy="4.6">mental</tspan></text></g>
<g id="o3" class="o"><rect x="570" y="475.9" width="32" height="5.2"/><text x="571.3" y="479.9">trastorno crónico</text></g>
<g id="o3a" class="o"><rect x="611" y="475.9" width="59" height="5.2"/><text x="612.3" y="479.9">acumulación del tejido adiposo</text></g>
<g id="o3b" class="o"><rect x="677" y="471.9" width="18" height="5.2"/><text x="678.3" y="475.9">mujeres</text></g>
<g id="o3c" class="o"><rect x="700" y="471.9" width="13.5" height="5.2"/><text x="701.3" y="475.9">&gt; 35%</text></g>
<g id="o3d" class="o"><rect x="677" y="478.9" width="19" height="5.2"/><text x="678.3" y="482.9">hombres</text></g>
<g id="o3e" class="o"><rect x="700" y="478.9" width="14" height="5.2"/><text x="701.3" y="482.9">&gt; 30%</text></g>
<g id="o4" class="o"><rect x="570" y="495.9" width="13" height="5.2"/><text x="571.3" y="499.9">Bruch</text></g>
<g id="o4a" class="o"><rect x="590" y="495.9" width="15" height="5.2"/><text x="591.3" y="499.9">2 tipos</text></g>
<g id="o4b" class="o"><rect x="611" y="490.9" width="43" height="5.2"/><text x="612.3" y="494.9">obesidad de desarrollo</text></g>
<g id="o4c" class="o"><rect x="662" y="488.6" width="76" height="9.8"/><text x="663.3" y="492.6">problemas para diferenciar el hambre de<tspan x="663.3" dy="4.6">tensiones emocionales</tspan></text></g>
<g id="o4d" class="o"><rect x="611" y="500.9" width="34" height="5.2"/><text x="612.3" y="504.9">obesidad reactiva</text></g>
<g id="o4e" class="o"><rect x="652" y="500.9" width="86" height="5.2"/><text x="653.3" y="504.9">reacción a sucesos traumáticos o estresantes</text></g>

<text class="ft" x="424" y="550" text-anchor="middle">Presented with <tspan font-weight="bold">xmind</tspan></text>
</svg>
